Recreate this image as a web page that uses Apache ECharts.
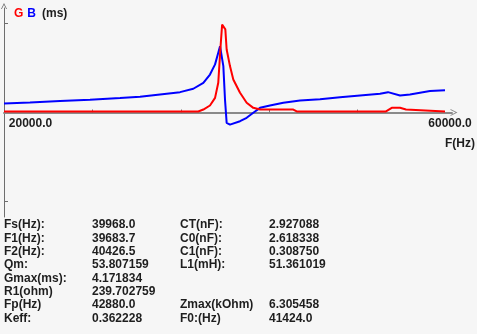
<!DOCTYPE html>
<html>
<head>
<meta charset="utf-8">
<script src="https://cdn.jsdelivr.net/npm/echarts@6/dist/echarts.min.js"></script>
<style>
html,body{margin:0;padding:0;background:#f6f6f6;}
#c{width:477px;height:334px;}
</style>
</head>
<body>
<div id="c"></div>
<script>
// ---- data ----
const bFreq = [20000,22350,25070,27780,30500,32310,34120,35930,37130,38040,38640,39100,39390,39550,39700,39850,40000,40150,40450,41360,41960,42560,43170,44070,45280,46790,48600,50410,52220,54030,54750,55840,56740,58550,59910];
const bValues = [0.43,0.47,0.54,0.60,0.68,0.74,0.85,0.96,1.12,1.40,1.79,2.27,2.82,3.13,3.13,2.19,0.61,-0.49,-0.57,-0.41,-0.25,-0.01,0.22,0.33,0.46,0.57,0.63,0.72,0.80,0.88,0.96,0.80,0.85,1.01,1.05];
const gFreq = [20000,37580,38040,38640,39100,39390,39580,39740,39880,40030,40150,40450,40750,41360,41960,42560,43170,46180,46490,54570,54750,55090,55840,56380,56470,59910];
const gValues = [0.05,0.05,0.14,0.33,0.69,1.40,2.97,4.15,4.17,3.92,2.97,2.19,1.56,0.93,0.46,0.22,0.14,0.14,0.05,0.05,0.14,0.22,0.22,0.14,0.05,0.05];
const xLabelValues = [20000, 60000];
const xTickValues = [28000, 36000, 44000, 52000];
const yTickValues = [4.2, -4.2];
const xName = 'F(Hz)';
const statLabels1 = ['Fs(Hz):','F1(Hz):','F2(Hz):','Qm:','Gmax(ms):','R1(ohm)','Fp(Hz)','Keff:'];
const statValues1 = ['39968.0','39683.7','40426.5','53.807159','4.171834','239.702759','42880.0','0.362228'];
const statLabels2 = ['CT(nF):','C0(nF):','C1(nF):','L1(mH):','','','Zmax(kOhm)','F0:(Hz)'];
const statValues2 = ['2.927088','2.618338','0.308750','51.361019','','','6.305458','41424.0'];

// ---- chart ----
const FONT = 'Liberation Sans, Arial, sans-serif';
const TXT = '#1e1e1e';
const chart = echarts.init(document.getElementById('c'), null, {renderer:'canvas'});
const zip = (a,b) => a.map((v,i)=>[v,b[i]]);
const chevron = 'path://M0,10 L5,0 L10,10 L8.6,10 L5,2.8 L1.4,10 Z';

const texts = [];
const cols = [[statLabels1,4],[statValues1,92],[statLabels2,180],[statValues2,269]];
cols.forEach(([arr,x])=>{
  arr.forEach((t,i)=>{
    if(!t) return;
    texts.push({type:'text', left:x, top:219 + i*13.33, style:{text:t, fill:TXT, font:'bold 12px '+FONT}});
  });
});

chart.setOption({
  backgroundColor:'#f6f6f6',
  animation:false,
  title:{
    left:9, top:3,
    text:'{g|G}{s1| }{b|B}{s2| }{u|(ms)}',
    textStyle:{fontSize:12, fontWeight:'bold', fontFamily:FONT,
      rich:{
        g:{color:'#ff0000', fontSize:12, fontWeight:'bold', fontFamily:FONT},
        s1:{width:4, fontSize:12},
        b:{color:'#0000ff', fontSize:12, fontWeight:'bold', fontFamily:FONT},
        s2:{width:6, fontSize:12},
        u:{color:TXT, fontSize:12, fontWeight:'bold', fontFamily:FONT}
      }}
  },
  grid:{left:4, right:25, top:8, bottom:117, outerBoundsMode:'none', containLabel:false},
  xAxis:{
    type:'value', min:20000, max:60543,
    offset:-104.5,
    name:xName, nameLocation:'end', nameGap:-7,
    nameTextStyle:{color:TXT, fontSize:12, fontWeight:'bold', fontFamily:FONT, align:'left', verticalAlign:'top', padding:[25,0,0,0]},
    axisLine:{onZero:false, lineStyle:{color:'#8a8a8a', width:2}, symbol:['none', chevron], symbolSize:[8,7], symbolOffset:[0,2]},
    axisTick:{show:true, inside:true, length:3, customValues:xTickValues, lineStyle:{color:'#777', width:1}},
    axisLabel:{
      customValues:xLabelValues, margin:5, color:TXT, fontSize:12, fontWeight:'bold', fontFamily:FONT,
      formatter:(v)=> (v===20000 ? '{p1| }' : '{p2| }') + '{t|' + v.toFixed(1) + '}',
      rich:{
        p1:{width:53}, p2:{width:8},
        t:{color:TXT, fontSize:12, fontWeight:'bold', fontFamily:FONT}
      }
    },
    splitLine:{show:false}
  },
  yAxis:{
    type:'value', min:-4.93, max:4.93,
    axisLine:{show:true, onZero:false, lineStyle:{color:'#6e6e6e', width:1}, symbol:['none', chevron], symbolSize:[8,6], symbolOffset:[0,2]},
    axisTick:{show:true, inside:true, length:4, customValues:yTickValues, lineStyle:{color:'#6e6e6e'}},
    axisLabel:{show:false},
    splitLine:{show:false}
  },
  series:[
    {type:'line', name:'B', data:zip(bFreq,bValues), showSymbol:false, symbol:'none', lineStyle:{color:'#0000ff', width:2}, z:3},
    {type:'line', name:'G', data:zip(gFreq,gValues), showSymbol:false, symbol:'none', lineStyle:{color:'#ff0000', width:2}, z:4}
  ],
  graphic: texts
});
</script>
</body>
</html>
